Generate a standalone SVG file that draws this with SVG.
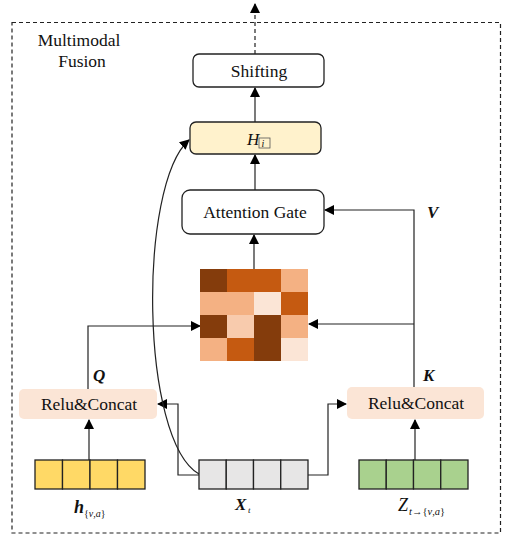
<svg xmlns="http://www.w3.org/2000/svg" width="511" height="538" viewBox="0 0 511 538">
  <defs>
    <marker id="arrow" viewBox="0 0 10 10" refX="9" refY="5" markerWidth="10" markerHeight="10" markerUnits="userSpaceOnUse" orient="auto">
      <path d="M0,0 L10,5 L0,10 Z" fill="#000"/>
    </marker>
    <style>
      text { font-family: "Liberation Serif", "Times New Roman", serif; fill: #111; }
      .box { fill: #fff; stroke: #222; stroke-width: 1.3; }
      .relu { fill: #fbe5d6; }
      .wire { fill: none; stroke: #222; stroke-width: 1.2; }
      .cell { stroke: #222; stroke-width: 1.3; }
      .lbl { font-size: 17.5px; text-anchor: middle; }
      .var { font-size: 17px; font-style: italic; font-weight: bold; }
    </style>
  </defs>

  <rect width="511" height="538" fill="#fff"/>

  <!-- Fusion frame -->
  <rect x="12" y="22.5" width="488.5" height="510.5" fill="none" stroke="#222" stroke-width="1.2" stroke-dasharray="4,3"/>
  <text x="79" y="46" class="lbl" font-size="16.5">Multimodal</text>
  <text x="82" y="67" class="lbl" font-size="16.5">Fusion</text>

  <!-- Connectors -->
  <g id="connectors">
    <path class="wire" d="M255,54 V4" stroke-dasharray="4,3" marker-end="url(#arrow)"/>
    <path class="wire" d="M255,122 V88" marker-end="url(#arrow)"/>
    <path class="wire" d="M255,190 V155" marker-end="url(#arrow)"/>
    <path class="wire" d="M254,269 V235" marker-end="url(#arrow)"/>
    <path class="wire" d="M88,389 V326 H200" marker-end="url(#arrow)"/>
    <path class="wire" d="M414,387 V210 H325" marker-end="url(#arrow)"/>
    <path class="wire" d="M414,324 H309" marker-end="url(#arrow)"/>
    <path class="wire" d="M89,460 V420" marker-end="url(#arrow)"/>
    <path class="wire" d="M415,460 V420" marker-end="url(#arrow)"/>
    <path class="wire" d="M199,475 H178 V404 H158" marker-end="url(#arrow)"/>
    <path class="wire" d="M308,475 H328 V404 H346" marker-end="url(#arrow)"/>
    <path class="wire" d="M199,474 C140,440 138,185 189,140" marker-end="url(#arrow)"/>
  </g>

  <!-- Output shift -->
  <g id="shifting">
    <rect class="box" x="193" y="54" width="131" height="33" rx="6"/>
    <text x="259" y="77" class="lbl">Shifting</text>
  </g>

  <!-- Fused hidden state -->
  <g id="hidden">
    <rect x="190" y="122" width="131" height="32" rx="6" fill="#fff2cc" stroke="#222" stroke-width="1.3"/>
    <text x="247" y="145" font-size="17" font-style="italic">H</text>
    <rect x="259" y="138" width="11" height="10" fill="none" stroke="#555" stroke-width="0.8"/>
    <text x="261.5" y="147" font-size="10" font-style="italic">i</text>
  </g>

  <!-- Gate -->
  <g id="attention-gate">
    <rect class="box" x="182" y="190" width="142" height="44" rx="8"/>
    <text x="255" y="218" class="lbl">Attention Gate</text>
  </g>

  <!-- Attention map -->
  <g id="attention-map">
    <rect x="200" y="269" width="27" height="23" fill="#843c0c"/>
    <rect x="227" y="269" width="27" height="23" fill="#c55a11"/>
    <rect x="254" y="269" width="27" height="23" fill="#c55a11"/>
    <rect x="281" y="269" width="27" height="23" fill="#f4b183"/>
    <rect x="200" y="292" width="27" height="23" fill="#f4b183"/>
    <rect x="227" y="292" width="27" height="23" fill="#f4b183"/>
    <rect x="254" y="292" width="27" height="23" fill="#fbe5d6"/>
    <rect x="281" y="292" width="27" height="23" fill="#c55a11"/>
    <rect x="200" y="315" width="27" height="23" fill="#843c0c"/>
    <rect x="227" y="315" width="27" height="23" fill="#f8cbad"/>
    <rect x="254" y="315" width="27" height="23" fill="#843c0c"/>
    <rect x="281" y="315" width="27" height="23" fill="#f4b183"/>
    <rect x="200" y="338" width="27" height="23" fill="#f4b183"/>
    <rect x="227" y="338" width="27" height="23" fill="#c55a11"/>
    <rect x="254" y="338" width="27" height="23" fill="#843c0c"/>
    <rect x="281" y="338" width="27" height="23" fill="#fbe5d6"/>
  </g>

  <!-- Q / K / V labels -->
  <text x="93" y="381" class="var">Q</text>
  <text x="423" y="381" class="var">K</text>
  <text x="427" y="218" class="var">V</text>

  <!-- Left projection -->
  <g id="relu-left">
    <rect class="relu" x="19" y="389" width="138" height="30" rx="5"/>
    <text x="89" y="410" class="lbl">Relu&amp;Concat</text>
  </g>

  <!-- Right projection -->
  <g id="relu-right">
    <rect class="relu" x="347" y="387" width="137" height="32" rx="5"/>
    <text x="416" y="409" class="lbl">Relu&amp;Concat</text>
  </g>

  <!-- Visual/audio features -->
  <g id="h-va">
    <rect class="cell" x="35" y="460" width="27.5" height="29" fill="#ffd966"/>
    <rect class="cell" x="62.5" y="460" width="27.5" height="29" fill="#ffd966"/>
    <rect class="cell" x="90" y="460" width="27.5" height="29" fill="#ffd966"/>
    <rect class="cell" x="117.5" y="460" width="27.5" height="29" fill="#ffd966"/>
    <text x="74" y="513" font-size="18" font-style="italic" font-weight="bold">h</text>
    <text x="84" y="517" font-size="10">{<tspan font-style="italic">v</tspan>,<tspan font-style="italic">a</tspan>}</text>
  </g>

  <!-- Text features -->
  <g id="x-t">
    <rect class="cell" x="199" y="460" width="27.25" height="29" fill="#e7e6e6"/>
    <rect class="cell" x="226.25" y="460" width="27.25" height="29" fill="#e7e6e6"/>
    <rect class="cell" x="253.5" y="460" width="27.25" height="29" fill="#e7e6e6"/>
    <rect class="cell" x="280.75" y="460" width="27.25" height="29" fill="#e7e6e6"/>
    <text x="235" y="510" font-size="17" font-style="italic" font-weight="bold">X</text>
    <text x="248" y="513" font-size="9" font-style="italic">t</text>
  </g>

  <!-- Translated features -->
  <g id="z-t">
    <rect class="cell" x="359" y="460" width="27.25" height="29" fill="#a9d18e"/>
    <rect class="cell" x="386.25" y="460" width="27.25" height="29" fill="#a9d18e"/>
    <rect class="cell" x="413.5" y="460" width="27.25" height="29" fill="#a9d18e"/>
    <rect class="cell" x="440.75" y="460" width="27.25" height="29" fill="#a9d18e"/>
    <text x="398" y="511" font-size="18" font-style="italic">Z</text>
    <text x="409" y="515" font-size="10.5"><tspan font-style="italic">t</tspan>→{<tspan font-style="italic">v</tspan>,<tspan font-style="italic">a</tspan>}</text>
  </g>
</svg>
